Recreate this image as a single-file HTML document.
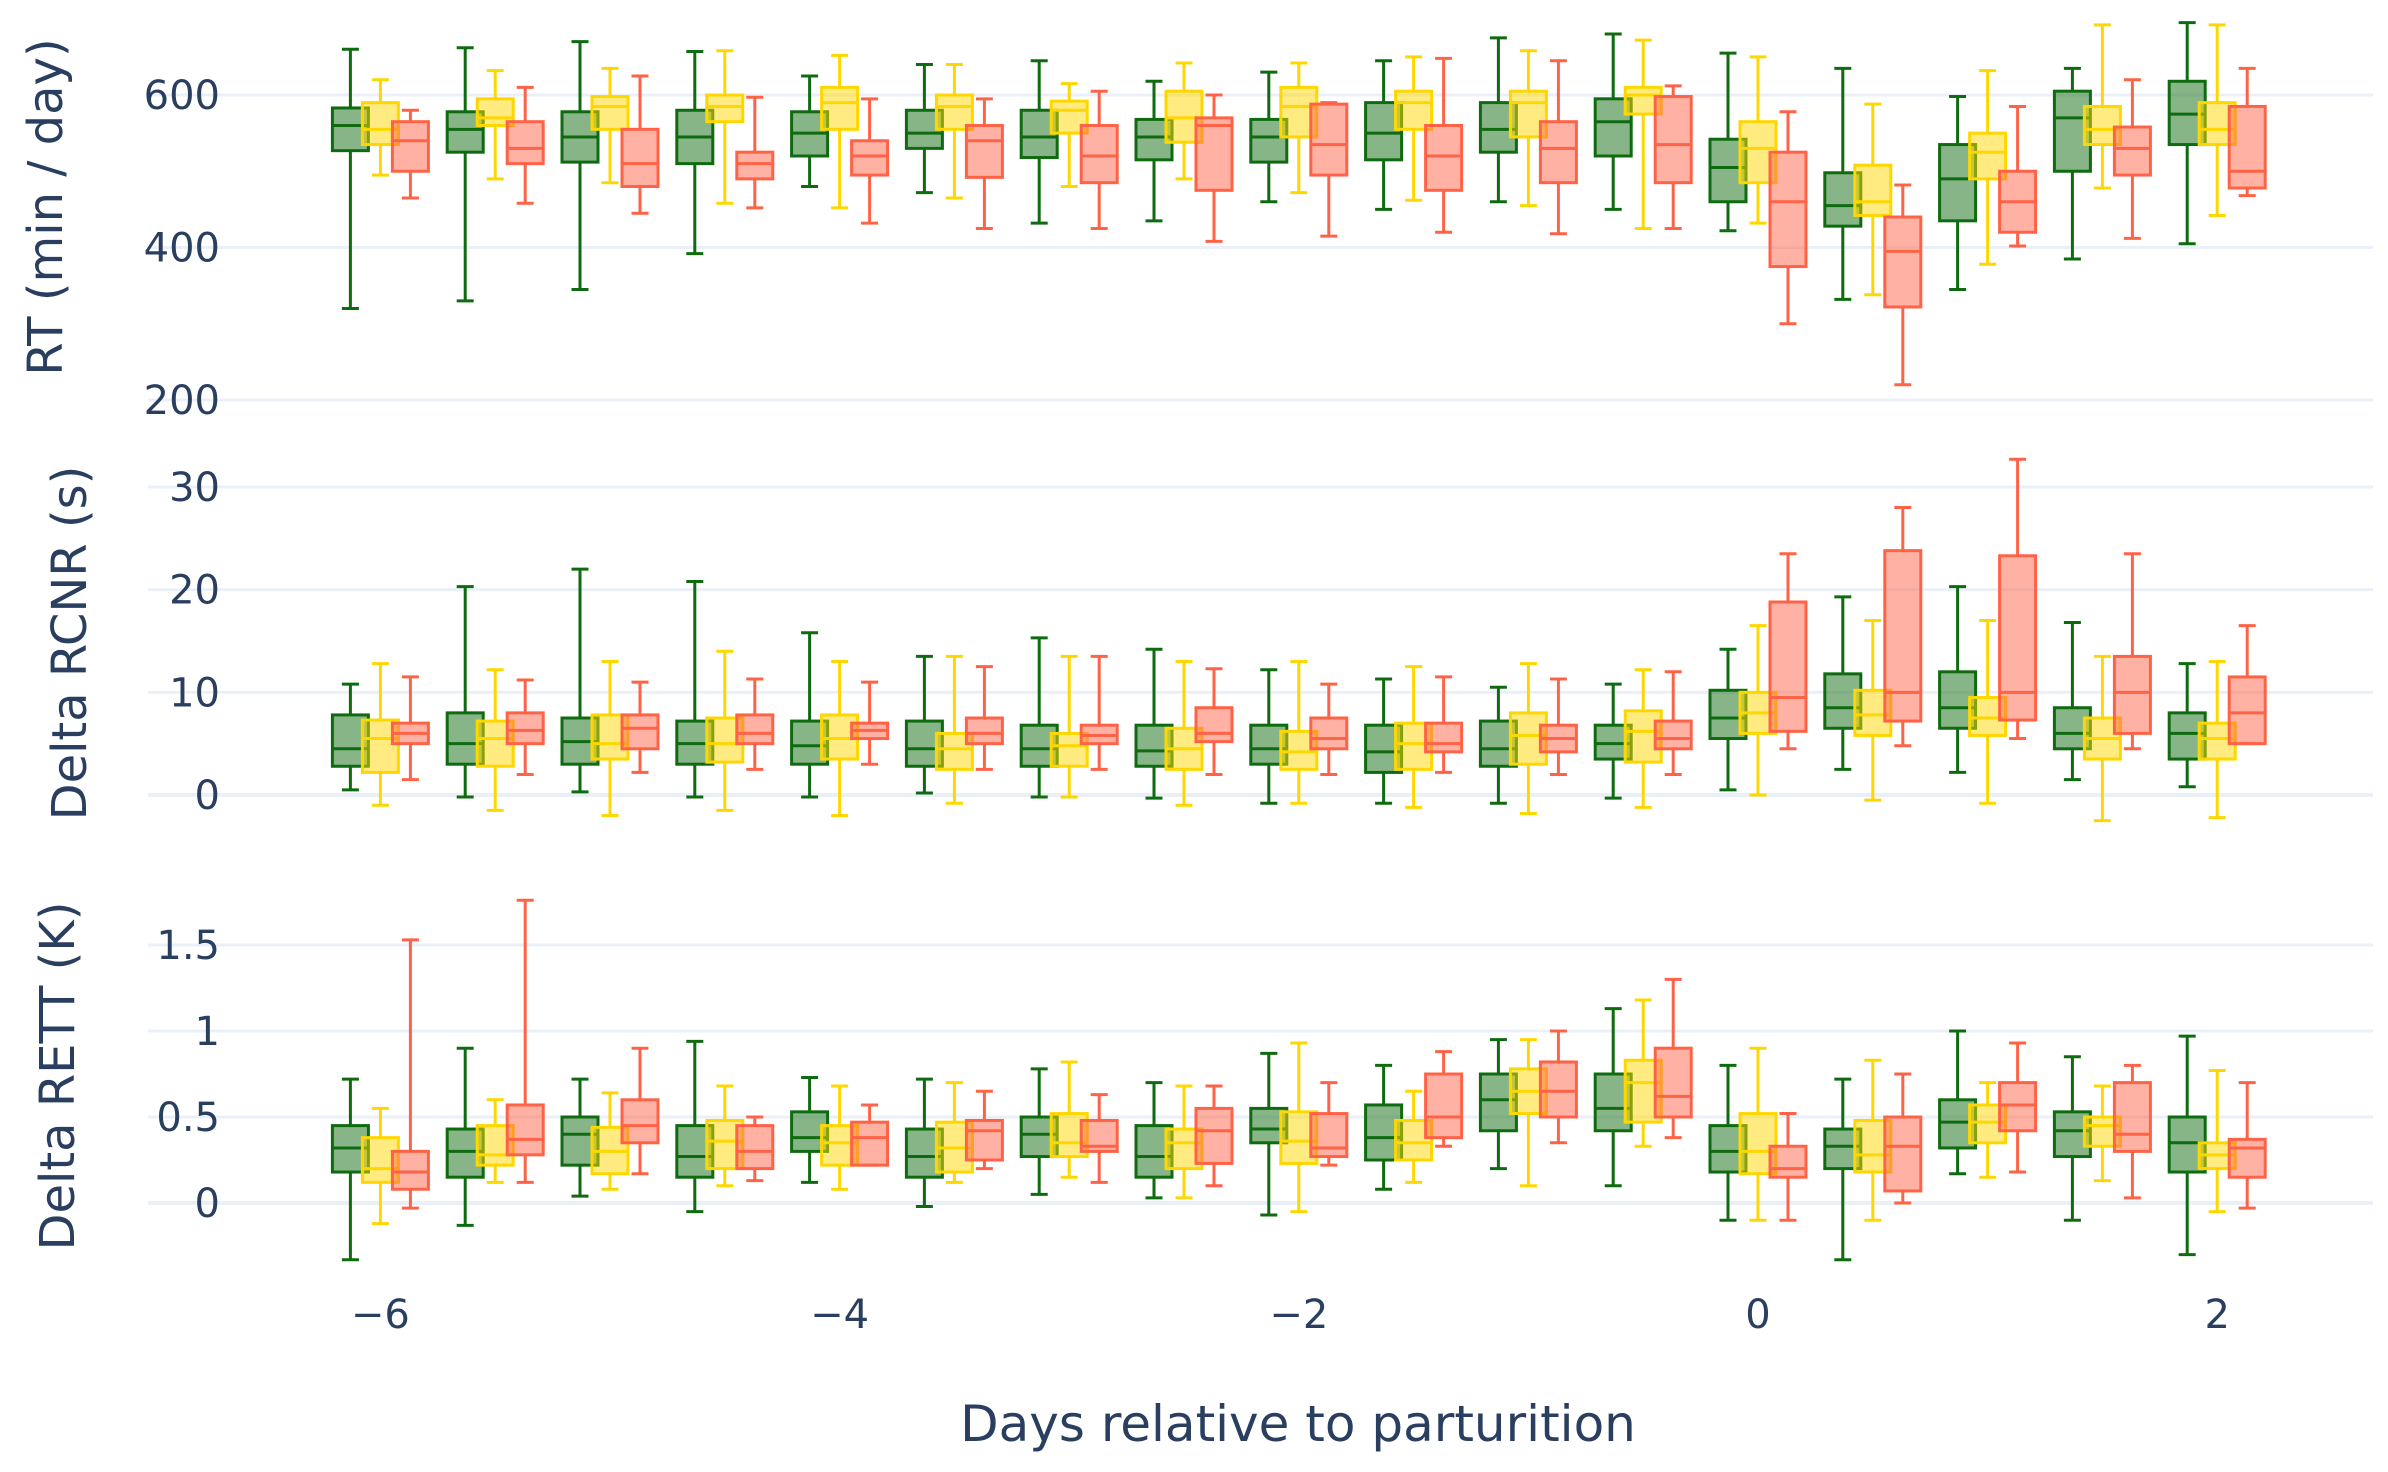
<!DOCTYPE html>
<html><head><meta charset="utf-8">
<style>
html,body{margin:0;padding:0;background:#fff;}
svg{display:block;font-family:"DejaVu Sans","Liberation Sans",sans-serif;}
</style></head>
<body>
<svg id="chart" width="2388" height="1472" viewBox="0 0 2388 1472" xmlns="http://www.w3.org/2000/svg">
<g id="grid"></g>
<g id="marks"></g>
<g id="labels"></g>
<text x="1298" y="1441" text-anchor="middle" font-size="50" fill="#2a3f5f">Days relative to parturition</text>
<text transform="translate(62,207) rotate(-90)" text-anchor="middle" font-size="48" fill="#2a3f5f">RT (min / day)</text>
<text transform="translate(86,643) rotate(-90)" text-anchor="middle" font-size="48" fill="#2a3f5f">Delta RCNR (s)</text>
<text transform="translate(74,1076) rotate(-90)" text-anchor="middle" font-size="48" fill="#2a3f5f">Delta RETT (K)</text>
</svg>
<script>
// ---- data ----
const days = [-6,-5.5,-5,-4.5,-4,-3.5,-3,-2.5,-2,-1.5,-1,-0.5,0,0.5,1,1.5,2];
const xTicks = [-6,-4,-2,0,2];
const xTickLabels = ["\u22126","\u22124","\u22122","0","2"];
// each entry: [lowerWhisker, q1, median, q3, upperWhisker]
const rtGreen = [[320,527,560,583,660],[330,525,555,578,662],[345,512,545,578,670],[392,510,545,580,657],[480,520,550,578,625],[472,530,550,580,640],[432,518,545,580,645],[435,515,545,568,618],[460,512,545,568,630],[450,515,550,590,645],[460,525,555,590,675],[450,520,565,595,680],[422,460,505,542,655],[332,428,455,498,635],[345,435,490,535,598],[385,500,570,605,635],[405,535,575,618,695]];
const rtYellow = [[495,535,555,590,620],[490,560,570,595,632],[485,555,585,598,635],[458,565,585,600,658],[452,555,590,610,652],[465,555,585,600,640],[480,550,580,592,615],[490,538,570,605,642],[472,545,585,610,642],[462,555,590,605,650],[455,545,590,605,658],[425,575,600,610,672],[432,485,530,565,650],[338,442,460,508,588],[378,490,525,550,632],[478,535,555,585,692],[442,535,555,590,692]];
const rtRed = [[465,500,540,565,580],[458,510,530,565,610],[445,480,510,555,625],[452,490,510,525,597],[432,495,520,540,595],[425,492,540,560,595],[425,485,520,560,605],[408,475,560,570,600],[415,495,535,588,590],[420,475,520,560,648],[418,485,530,565,645],[425,485,535,598,612],[300,375,460,525,578],[220,322,395,440,482],[402,420,460,500,585],[412,495,530,558,620],[468,478,500,585,635]];
const rcGreen = [[0.5,2.8,4.5,7.8,10.8],[-0.2,3,5,8,20.3],[0.3,3,5.2,7.5,22],[-0.2,3,5,7.2,20.8],[-0.2,3,4.8,7.2,15.8],[0.2,2.8,4.5,7.2,13.5],[-0.2,2.8,4.5,6.8,15.3],[-0.3,2.8,4.3,6.8,14.2],[-0.8,3,4.5,6.8,12.2],[-0.8,2.2,4.2,6.8,11.3],[-0.8,2.8,4.5,7.2,10.5],[-0.3,3.5,5,6.8,10.8],[0.5,5.5,7.5,10.2,14.2],[2.5,6.5,8.5,11.8,19.3],[2.2,6.5,8.5,12,20.3],[1.5,4.5,6,8.5,16.8],[0.8,3.5,6,8,12.8]];
const rcYellow = [[-1,2.2,5.5,7.3,12.8],[-1.5,2.8,5.5,7.2,12.2],[-2,3.5,5,7.8,13],[-1.5,3.2,5,7.5,14],[-2,3.5,5.5,7.8,13],[-0.8,2.5,4.5,6,13.5],[-0.2,2.8,4.8,6,13.5],[-1,2.5,4.5,6.5,13],[-0.8,2.5,4.2,6.2,13],[-1.2,2.5,5,7,12.5],[-1.8,3,5.8,8,12.8],[-1.2,3.2,6.2,8.2,12.2],[0,6,8,10,16.5],[-0.5,5.8,7.8,10.2,17],[-0.8,5.8,7.5,9.5,17],[-2.5,3.5,5.5,7.5,13.5],[-2.2,3.5,5.5,7,13]];
const rcRed = [[1.5,5,6,7,11.5],[2,5,6.3,8,11.2],[2.2,4.5,6.5,7.8,11],[2.5,5,6,7.8,11.3],[3,5.5,6.3,7,11],[2.5,5,6,7.5,12.5],[2.5,5,5.8,6.8,13.5],[2,5.2,6,8.5,12.3],[2,4.5,5.5,7.5,10.8],[2.2,4.2,5,7,11.5],[2,4.2,5.5,6.8,11.3],[2,4.5,5.5,7.2,12],[4.5,6.2,9.5,18.8,23.5],[4.8,7.2,10,23.8,28],[5.5,7.3,10,23.3,32.7],[4.5,6,10,13.5,23.5],[5,5,8,11.5,16.5]];
const reGreen = [[-0.33,0.18,0.32,0.45,0.72],[-0.13,0.15,0.3,0.43,0.9],[0.04,0.22,0.4,0.5,0.72],[-0.05,0.15,0.27,0.45,0.94],[0.12,0.3,0.38,0.53,0.73],[-0.02,0.15,0.27,0.43,0.72],[0.05,0.27,0.4,0.5,0.78],[0.03,0.15,0.27,0.45,0.7],[-0.07,0.35,0.43,0.55,0.87],[0.08,0.25,0.38,0.57,0.8],[0.2,0.42,0.6,0.75,0.95],[0.1,0.42,0.55,0.75,1.13],[-0.1,0.18,0.3,0.45,0.8],[-0.33,0.2,0.33,0.43,0.72],[0.17,0.32,0.47,0.6,1.0],[-0.1,0.27,0.42,0.53,0.85],[-0.3,0.18,0.35,0.5,0.97]];
const reYellow = [[-0.12,0.12,0.2,0.38,0.55],[0.12,0.22,0.28,0.45,0.6],[0.08,0.17,0.3,0.44,0.64],[0.1,0.2,0.36,0.48,0.68],[0.08,0.22,0.35,0.45,0.68],[0.12,0.18,0.32,0.47,0.7],[0.15,0.27,0.35,0.52,0.82],[0.03,0.2,0.35,0.43,0.68],[-0.05,0.23,0.36,0.53,0.93],[0.12,0.25,0.35,0.48,0.65],[0.1,0.52,0.65,0.78,0.95],[0.33,0.47,0.7,0.83,1.18],[-0.1,0.17,0.3,0.52,0.9],[-0.1,0.18,0.28,0.48,0.83],[0.15,0.35,0.47,0.57,0.7],[0.13,0.33,0.45,0.5,0.68],[-0.05,0.2,0.28,0.35,0.77]];
const reRed = [[-0.03,0.08,0.18,0.3,1.53],[0.12,0.28,0.37,0.57,1.76],[0.17,0.35,0.45,0.6,0.9],[0.13,0.2,0.3,0.45,0.5],[0.22,0.22,0.38,0.47,0.57],[0.2,0.25,0.42,0.48,0.65],[0.12,0.3,0.33,0.48,0.63],[0.1,0.23,0.42,0.55,0.68],[0.22,0.27,0.32,0.52,0.7],[0.33,0.38,0.5,0.75,0.88],[0.35,0.5,0.65,0.82,1.0],[0.38,0.5,0.62,0.9,1.3],[-0.1,0.15,0.2,0.33,0.52],[0.0,0.07,0.33,0.5,0.75],[0.18,0.42,0.57,0.7,0.93],[0.03,0.3,0.4,0.7,0.8],[-0.03,0.15,0.32,0.37,0.7]];
const rtTicks = [200,400,600];
const rcTicks = [0,10,20,30];
const reTicks = [0,0.5,1,1.5];
const reTickLabels = ["0","0.5","1","1.5"];

// ---- layout ----
const NS = "http://www.w3.org/2000/svg";
const X = d => 1758 + d * 229.6;
const plotL = 148, plotR = 2373;
const panels = [
  {name:"rt", y0:200, y1:600, p0:400, p1:95, ticks:rtTicks, labels:rtTicks.map(String), series:[rtGreen, rtYellow, rtRed]},
  {name:"rcnr", y0:0, y1:30, p0:795, p1:487, ticks:rcTicks, labels:rcTicks.map(String), series:[rcGreen, rcYellow, rcRed]},
  {name:"rett", y0:0, y1:1.5, p0:1203, p1:945, ticks:reTicks, labels:reTickLabels, series:[reGreen, reYellow, reRed]}
];
const seriesNames = ["green","yellow","red"];
const strokes = ["#0f6b0f","#ffd700","#ff6347"];
const fills = ["rgba(15,107,15,0.5)","rgba(255,215,0,0.5)","rgba(255,99,71,0.5)"];
const offsets = [-30, 0, 30];
const boxW = 36, capW = 17;

function mk(tag, attrs, parent){
  const el = document.createElementNS(NS, tag);
  for (const k in attrs) el.setAttribute(k, attrs[k]);
  parent.appendChild(el);
  return el;
}
const grid = document.getElementById('grid');
const marks = document.getElementById('marks');
const labels = document.getElementById('labels');

panels.forEach(p => {
  const Y = v => p.p0 + (v - p.y0) * (p.p1 - p.p0) / (p.y1 - p.y0);
  p.ticks.forEach((t, i) => {
    const gl = mk('line', {x1:plotL, x2:plotR, y1:Y(t), y2:Y(t), stroke:'#ebf0f8', 'stroke-width': (t===0 ? 4 : 3)}, grid);
    
    
    const tl = mk('text', {x:220, y:Y(t)+14, 'text-anchor':'end', 'font-size':40, fill:'#2a3f5f'}, labels);
    tl.textContent = p.labels[i];
    
    
  });
  p.series.forEach((s, si) => {
    s.forEach((v, gi) => {
      const cx = X(days[gi]) + offsets[si];
      const g = mk('g', {}, marks);
      
      
      const st = strokes[si];
      mk('line', {x1:cx, x2:cx, y1:Y(v[0]), y2:Y(v[1]), stroke:st, 'stroke-width':3}, g);
      mk('line', {x1:cx, x2:cx, y1:Y(v[3]), y2:Y(v[4]), stroke:st, 'stroke-width':3}, g);
      mk('line', {x1:cx-capW/2, x2:cx+capW/2, y1:Y(v[0]), y2:Y(v[0]), stroke:st, 'stroke-width':3}, g);
      mk('line', {x1:cx-capW/2, x2:cx+capW/2, y1:Y(v[4]), y2:Y(v[4]), stroke:st, 'stroke-width':3}, g);
      mk('rect', {x:cx-boxW/2, y:Y(v[3]), width:boxW, height:Math.max(1, Y(v[1])-Y(v[3])), fill:fills[si], stroke:st, 'stroke-width':3}, g);
      mk('line', {x1:cx-boxW/2, x2:cx+boxW/2, y1:Y(v[2]), y2:Y(v[2]), stroke:st, 'stroke-width':3}, g);
    });
  });
});
xTicks.forEach((t, i) => {
  const tl = mk('text', {x:X(t), y:1328, 'text-anchor':'middle', 'font-size':40, fill:'#2a3f5f'}, labels);
  tl.textContent = xTickLabels[i];
  
  
});
</script>
</body></html>
